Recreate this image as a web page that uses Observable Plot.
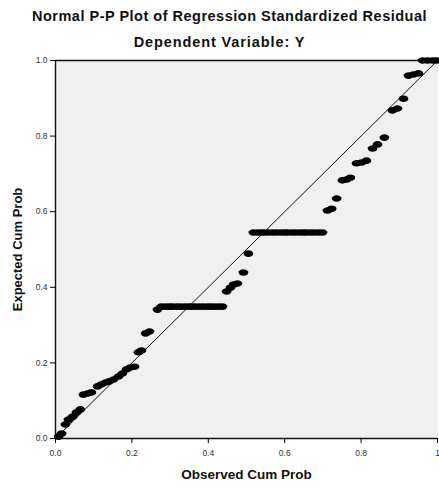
<!DOCTYPE html>
<html>
<head>
<meta charset="utf-8">
<script src="https://cdn.jsdelivr.net/npm/d3@7"></script>
<script src="https://cdn.jsdelivr.net/npm/@observablehq/plot@0.6"></script>
<style>
  html, body { margin: 0; padding: 0; background: #fff; }
  #wrap { width: 439px; height: 490px; position: relative; font-family: "Liberation Sans", Arial, sans-serif; }
  .title { height: 30px; line-height: 32px; text-align: center; font-size: 14.5px; letter-spacing: 0.5px; font-weight: bold; color: #111; white-space: nowrap; padding-left: 20px; box-sizing: border-box; }
  .subtitle { height: 24px; line-height: 24px; text-align: center; font-size: 14.5px; letter-spacing: 0.9px; font-weight: bold; color: #111; white-space: nowrap; }
  svg { display: block; }
</style>
</head>
<body>
<div id="wrap">
  <div class="title">Normal P-P Plot of Regression Standardized Residual</div>
  <div class="subtitle">Dependent Variable: Y</div>
  <div id="chart"></div>
</div>
<script>
const titleText = "Normal P-P Plot of Regression Standardized Residual";
const subtitleText = "Dependent Variable: Y";
const xLabel = "Observed Cum Prob";
const yLabel = "Expected Cum Prob";
const tickValues = [0, 0.2, 0.4, 0.6, 0.8, 1.0];
const xTickLabels = ["0.0", "0.2", "0.4", "0.6", "0.8", "1"];
const yTickLabels = ["0.0", "0.2", "0.4", "0.6", "0.8", "1.0"];
const refLine = [0, 1];

const observed = [
  0.008, 0.016, 0.026, 0.034, 0.045, 0.055, 0.065, 0.073, 0.084, 0.094,
  0.110, 0.120, 0.131, 0.141, 0.152, 0.165, 0.175, 0.186, 0.196, 0.207,
  0.217, 0.225, 0.236, 0.246,
  0.267, 0.277, 0.288, 0.298, 0.306, 0.317, 0.327, 0.338, 0.348, 0.356,
  0.366, 0.377, 0.387, 0.398, 0.406, 0.416, 0.427, 0.437,
  0.448, 0.458, 0.466, 0.476, 0.492, 0.505,
  0.518, 0.529, 0.539, 0.547, 0.557, 0.568, 0.578, 0.589, 0.599, 0.607,
  0.618, 0.628, 0.639, 0.649, 0.657, 0.668, 0.678, 0.689, 0.699,
  0.712, 0.723, 0.736, 0.751, 0.762, 0.772, 0.788, 0.801, 0.814, 0.830,
  0.843, 0.861, 0.882, 0.895, 0.911, 0.924, 0.937, 0.950, 0.961, 0.974,
  0.987, 0.997
];
const expected = [
  0.005, 0.013, 0.037, 0.050, 0.058, 0.069, 0.077, 0.116, 0.119, 0.122,
  0.138, 0.143, 0.148, 0.151, 0.156, 0.164, 0.172, 0.183, 0.188, 0.190,
  0.228, 0.233, 0.278, 0.283,
  0.341, 0.349, 0.349, 0.349, 0.349, 0.349, 0.349, 0.349, 0.349, 0.349,
  0.349, 0.349, 0.349, 0.349, 0.349, 0.349, 0.349, 0.349,
  0.389, 0.399, 0.407, 0.410, 0.439, 0.489,
  0.545, 0.545, 0.545, 0.545, 0.545, 0.545, 0.545, 0.545, 0.545, 0.545,
  0.545, 0.545, 0.545, 0.545, 0.545, 0.545, 0.545, 0.545, 0.545,
  0.603, 0.608, 0.635, 0.683, 0.685, 0.690, 0.728, 0.730, 0.735, 0.767,
  0.778, 0.796, 0.868, 0.873, 0.899, 0.960, 0.963, 0.966, 1.000, 1.000,
  1.000, 1.000
];

const points = observed.map((o, i) => ({observed: o, expected: expected[i]}));

// horizontally stretched elliptical marker
const ellipse = {
  draw(context) {
    const rx = 4.8, ry = 3.3, n = 16;
    for (let i = 0; i < n; i++) {
      const a = (i / n) * 2 * Math.PI;
      const px = rx * Math.cos(a), py = ry * Math.sin(a);
      if (i === 0) context.moveTo(px, py); else context.lineTo(px, py);
    }
    context.closePath();
  }
};

const chart = Plot.plot({
  width: 439,
  height: 436,
  marginLeft: 55,
  marginRight: 2,
  marginTop: 6,
  marginBottom: 52,
  style: {fontFamily: "'Liberation Sans', Arial, sans-serif", background: "white"},
  x: {domain: [0, 1], label: null},
  y: {domain: [0, 1], label: null},
  marks: [
    Plot.frame({fill: "#f0f0f0", stroke: null}),
    Plot.line(refLine, {x: d => d, y: d => d, stroke: "#111", strokeWidth: 1}),
    Plot.dot(points, {x: "observed", y: "expected", symbol: ellipse, fill: "#000", stroke: null}),
    Plot.ruleX([0], {stroke: "#111", strokeWidth: 1.4}),
    Plot.ruleY([0, 1], {stroke: "#111", strokeWidth: 1.4}),
    Plot.axisX({ticks: tickValues, tickFormat: (d, i) => xTickLabels[i], tickSize: 5, tickPadding: 6, fontSize: 8.5, stroke: "#000", color: "#333", label: null}),
    Plot.axisY({ticks: tickValues, tickFormat: (d, i) => yTickLabels[i], tickSize: 5, tickPadding: 3, fontSize: 8.5, stroke: "#000", color: "#333", label: null}),
    Plot.text([xLabel], {frameAnchor: "bottom", dy: 40, text: d => d, fontSize: 13.5, letterSpacing: 0.4, fontWeight: "bold", fill: "#111"}),
    Plot.text([yLabel], {frameAnchor: "left", textAnchor: "middle", dx: -38, rotate: -90, text: d => d, fontSize: 13, letterSpacing: 0.5, fontWeight: "bold", fill: "#111"})
  ]
});
document.getElementById("chart").appendChild(chart);
</script>
</body>
</html>
